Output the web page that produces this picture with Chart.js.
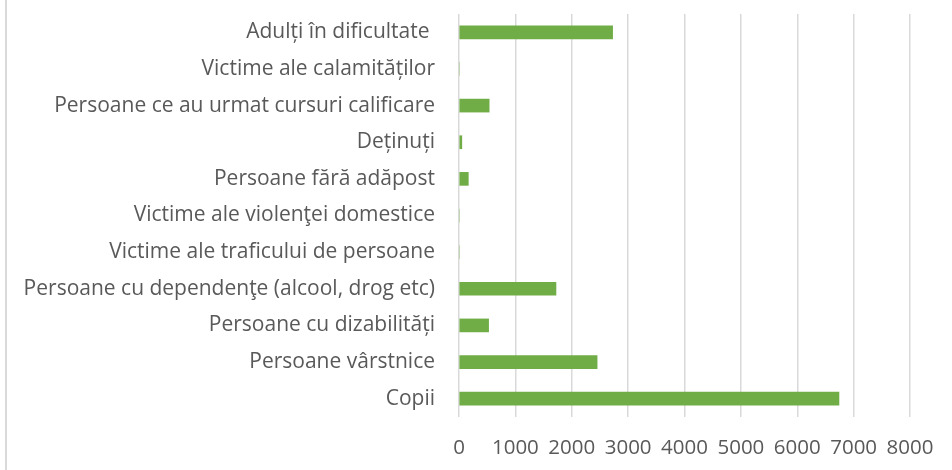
<!DOCTYPE html>
<html>
<head>
<meta charset="utf-8">
<script src="https://cdn.jsdelivr.net/npm/chart.js@4.4.1/dist/chart.umd.min.js"></script>
<style>
  html, body { margin: 0; padding: 0; background: #fff; }
  #wrap { width: 952px; height: 470px; position: relative; }
</style>
</head>
<body>
<div id="wrap"><canvas id="chart1"></canvas></div>
<script>
// categorii, de jos in sus (ca in Excel)
const categories = [
    'Copii',
    'Persoane vârstnice',
    'Persoane cu dizabilități',
    'Persoane cu dependenţe (alcool, drog etc)',
    'Victime ale traficului de persoane',
    'Victime ale violenţei domestice',
    'Persoane fără adăpost',
    'Deținuți',
    'Persoane ce au urmat cursuri calificare',
    'Victime ale calamităților',
    'Adulți în dificultate '
];
const beneficiari = [6740, 2450, 525, 1720, 0, 0, 165, 50, 535, 0, 2725];
const xTicks = [0, 1000, 2000, 3000, 4000, 5000, 6000, 7000, 8000];

const textColor = '#595959';
const gridColor = '#d9d9d9';
const fontFamily = "'Open Sans', sans-serif";

// linia gri din stanga (marginea graficului)
const leftBorder = {
    id: 'leftBorder',
    afterDraw(chart) {
        const { ctx } = chart;
        ctx.save();
        ctx.fillStyle = gridColor;
        ctx.fillRect(5, 0, 2, chart.height);
        ctx.restore();
    }
};

const ctx = document.querySelector('#chart1');
new Chart(ctx, {
    type: 'bar',
    data: {
        labels: categories,
        datasets: [{
            data: beneficiari,
            backgroundColor: '#70ad47',
            borderWidth: 0,
            barThickness: 13
        }]
    },
    options: {
        indexAxis: 'y',
        responsive: true,
        maintainAspectRatio: false,
        animation: false,
        layout: {
            padding: { top: 14, right: 42, left: 0, bottom: 0 }
        },
        scales: {
            y: {
                reverse: true,
                grid: { display: false },
                border: { display: false },
                ticks: {
                    color: textColor,
                    padding: 16,
                    font: { family: fontFamily, size: 21 }
                },
                afterFit: (scale) => {
                    scale.width = 459;
                    scale.paddingTop = 0;    // fara spatiu extra pt. etichete
                    scale.paddingBottom = 0;
                }
            },
            x: {
                min: 0,
                max: 8000,
                afterBuildTicks: (scale) => {
                    scale.ticks = xTicks.map(v => ({ value: v }));
                },
                grid: { color: gridColor, lineWidth: 1.5, drawTicks: false },
                border: { display: false },
                ticks: {
                    color: textColor,
                    padding: 19,
                    maxRotation: 0,
                    font: { family: fontFamily, size: 20.5 },
                    callback: (value) => String(value) // fara separator de mii
                },
                afterFit: (scale) => {
                    scale.height = 53;
                    scale.paddingLeft = 0;
                    scale.paddingRight = 0;
                }
            }
        },
        plugins: {
            legend: { display: false },
            tooltip: { enabled: false }
        }
    },
    plugins: [leftBorder]
});
</script>
</body>
</html>
